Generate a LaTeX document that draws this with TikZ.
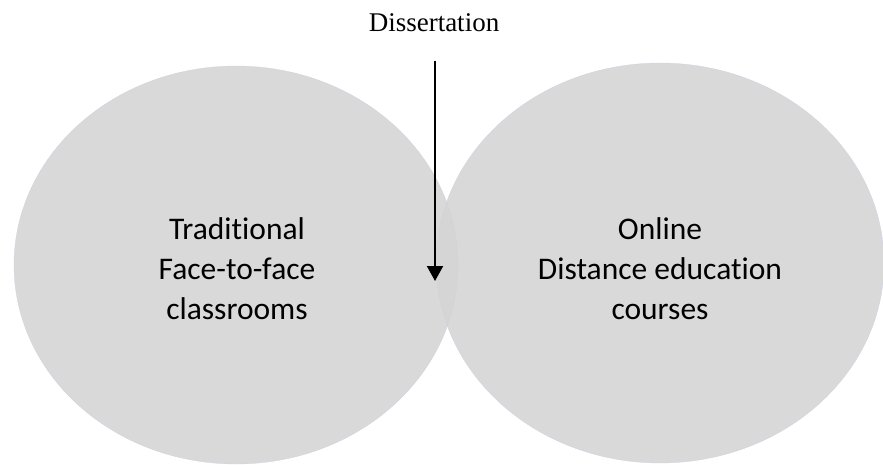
\documentclass[tikz,border=0pt]{standalone}
\usepackage{fontspec}
\setmainfont{Liberation Serif}
\newfontfamily\calib[Ligatures=NoCommon]{Carlito}
\usetikzlibrary{arrows.meta}
\usetikzlibrary{shapes.geometric}

\definecolor{setgray}{RGB}{212,212,212}
\definecolor{setedge}{RGB}{205,210,228}

\begin{document}
\begin{tikzpicture}[x=1pt,y=-1pt] % one unit is one pixel of the reference
        \tikzset{
            setshape/.style={ellipse, draw=setedge, line width=0.3pt, fill=setgray, fill opacity=0.88, inner sep=0pt},
            setlabel/.style={font=\calib\fontsize{31.5}{40}\selectfont, align=center, text=black},
            toplabel/.style={font=\fontsize{27}{32}\selectfont, text=black}
        }
        \useasboundingbox (0,0) rectangle (883,465);
        \node[setshape, minimum width=444pt, minimum height=398pt] (trad) at (236,265) {};
        \node[setshape, minimum width=448pt, minimum height=400pt] (online) at (660,263) {};

        \node[setlabel] (tradtext) at (237,269) {Traditional\\Face-to-face\\classrooms};
        \node[setlabel] (onlinetext) at (660,269) {Online\\Distance education\\courses};

        \node[toplabel, anchor=base] (diss) at (434,32) {Dissertation};
        \coordinate (arrtop) at (435,61);
        \coordinate (arrtip) at (435,281);
        \draw[line width=2pt, -{Triangle[width=16pt,length=15pt]}] (arrtop) -- (arrtip);
    \end{tikzpicture}
\end{document}
